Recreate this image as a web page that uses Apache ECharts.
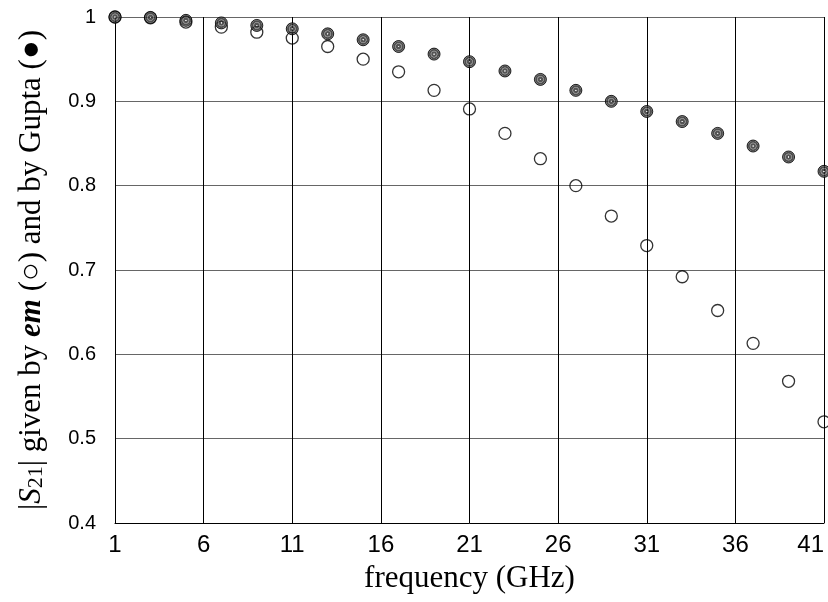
<!DOCTYPE html>
<html>
<head>
<meta charset="utf-8">
<script src="https://cdn.jsdelivr.net/npm/echarts@6/dist/echarts.min.js"></script>
<style>
html,body{margin:0;padding:0;background:#fff;}
#c{width:828px;height:602px;}
</style>
</head>
<body>
<div id="c"></div>
<script>
// Data
var frequency = [1, 3, 5, 7, 9, 11, 13, 15, 17, 19, 21, 23, 25, 27, 29, 31, 33, 35, 37, 39, 41];
var emS21 = [1.0, 0.999, 0.994, 0.988, 0.982, 0.975, 0.965, 0.950, 0.935, 0.913, 0.891, 0.862, 0.832, 0.800, 0.764, 0.729, 0.692, 0.652, 0.613, 0.568, 0.520];
var guptaS21 = [1.0, 0.9995, 0.996, 0.993, 0.990, 0.986, 0.980, 0.973, 0.965, 0.956, 0.947, 0.936, 0.926, 0.913, 0.900, 0.888, 0.876, 0.862, 0.847, 0.834, 0.817];
var xTicks = [1, 6, 11, 16, 21, 26, 31, 36, 41];
var yTicks = [0.4, 0.5, 0.6, 0.7, 0.8, 0.9, 1];

function pairs(xs, ys) { return xs.map(function (x, i) { return [x, ys[i]]; }); }

var chart = echarts.init(document.getElementById('c'), null, { renderer: 'canvas' });
var serif = 'Liberation Serif, Times New Roman, serif';
chart.setOption({
  animation: false,
  backgroundColor: '#fff',
  grid: { left: 115, right: 4, top: 17, bottom: 79, containLabel: false, outerBoundsMode: 'none' },
  xAxis: {
    type: 'value',
    min: 1,
    max: 41,
    name: 'frequency (GHz)',
    nameLocation: 'middle',
    nameGap: 40,
    nameTextStyle: { fontFamily: serif, fontSize: 31, color: '#000' },
    axisLine: { show: true, onZero: false, lineStyle: { color: '#000', width: 1 } },
    axisTick: { show: false, customValues: xTicks },
    axisLabel: {
      customValues: xTicks,
      margin: 10,
      fontFamily: 'Liberation Sans Narrow, Arial Narrow, Liberation Sans, Arial, sans-serif',
      fontSize: 24,
      color: '#000',
      hideOverlap: false,
      alignMaxLabel: 'right'
    },
    splitLine: { show: true, lineStyle: { color: '#000', width: 1 } }
  },
  yAxis: {
    type: 'value',
    min: 0.4,
    max: 1,
    interval: 0.1,
    name: '{n||}{i|S}{sub|21}{n|| given by }{b|em}{n| (○) and by Gupta (●)}',
    nameLocation: 'middle',
    nameRotate: 90,
    nameGap: 68,
    nameTextStyle: {
      fontFamily: serif, fontSize: 31, color: '#000',
      rich: {
        n: { fontFamily: serif, fontSize: 31, lineHeight: 31, color: '#000' },
        i: { fontFamily: serif, fontSize: 31, lineHeight: 31, fontStyle: 'italic', color: '#000' },
        sub: { fontFamily: serif, fontSize: 22, lineHeight: 14, verticalAlign: 'bottom', color: '#000' },
        b: { fontFamily: serif, fontSize: 31, lineHeight: 31, fontStyle: 'italic', fontWeight: 'bold', color: '#000' }
      }
    },
    axisLine: { show: true, onZero: false, lineStyle: { color: '#000', width: 1 } },
    axisTick: { show: false },
    axisLabel: {
      margin: 19,
      fontFamily: 'Liberation Sans, Arial, sans-serif',
      fontSize: 20,
      color: '#000'
    },
    splitLine: { show: true, lineStyle: { color: '#666', width: 1 } }
  },
  series: [
    {
      name: 'em',
      type: 'scatter',
      clip: false,
      symbol: 'circle',
      symbolSize: 12,
      data: pairs(frequency, emS21),
      itemStyle: { color: 'rgba(255,255,255,0)', borderColor: '#000', borderWidth: 1.3 },
      z: 3
    },
    {
      name: 'Gupta',
      type: 'scatter',
      clip: false,
      symbol: 'circle',
      symbolSize: 12,
      data: pairs(frequency, guptaS21),
      itemStyle: {
        color: {
          type: 'radial', x: 0.5, y: 0.5, r: 0.5,
          colorStops: [
            { offset: 0, color: '#dddddd' },
            { offset: 0.08, color: '#dddddd' },
            { offset: 0.15, color: '#2a2a2a' },
            { offset: 0.36, color: '#2a2a2a' },
            { offset: 0.42, color: '#6e6e6e' },
            { offset: 0.52, color: '#6e6e6e' },
            { offset: 0.58, color: '#222222' },
            { offset: 0.72, color: '#222222' },
            { offset: 0.78, color: '#5a5a5a' },
            { offset: 0.85, color: '#5a5a5a' },
            { offset: 0.9, color: '#1a1a1a' },
            { offset: 1, color: '#1a1a1a' }
          ]
        },
        borderColor: '#000',
        borderWidth: 1
      },
      z: 4
    }
  ]
});
</script>
</body>
</html>
